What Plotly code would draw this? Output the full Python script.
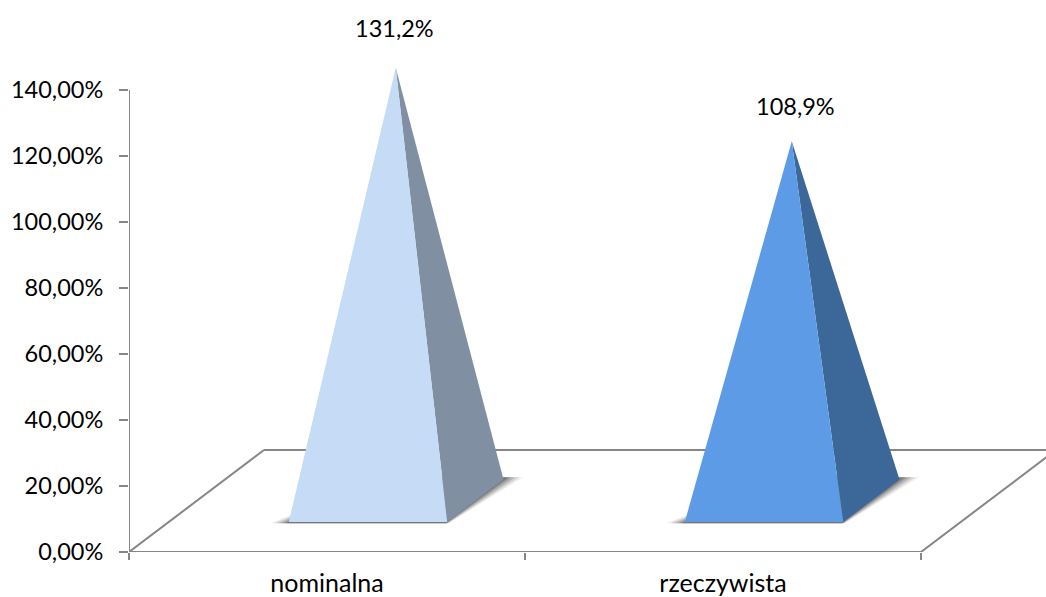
import plotly.graph_objects as go

categories = ["nominalna", "rzeczywista"]
values = [131.2, 108.9]
y_ticks = [0, 20, 40, 60, 80, 100, 120, 140]
y_tick_labels = ["0,00%", "20,00%", "40,00%", "60,00%", "80,00%", "100,00%", "120,00%", "140,00%"]
front_colors = ["#C6DBF6", "#5D9BE7"]
side_colors = ["#818FA3", "#3C6799"]

AXIS = "#868686"
DX = 135 / 396      # horizontal shift of full depth, in category units
DY = 102 / 3.3      # vertical shift of full depth, in value units
BAR_A, BAR_B = 0.303, 0.703
D_F, D_B = 0.295, 0.712
XMAX = (1046 - 129) / 396
YMAX = 552 / 3.3


def proj(x, d, v=0.0):
    return x + d * DX, v + d * DY


def poly(pts, color):
    xs = [p[0] for p in pts] + [pts[0][0]]
    ys = [p[1] for p in pts] + [pts[0][1]]
    return go.Scatter(x=xs, y=ys, mode="lines", fill="toself", fillcolor=color,
                      line=dict(width=0, color=color), hoverinfo="skip", showlegend=False)


def line(pts):
    return go.Scatter(x=[p[0] for p in pts], y=[p[1] for p in pts], mode="lines",
                      line=dict(color=AXIS, width=2), hoverinfo="skip", showlegend=False)


fig = go.Figure()

n = len(categories)
# floor and value axis
fig.add_trace(line([proj(0, 1), proj(n, 1)]))
fig.add_trace(line([proj(0, 1), proj(0, 0), proj(n, 0), proj(n, 1)]))
fig.add_trace(line([(0, 0), (0, y_ticks[-1])]))

for i, (v, fc, sc) in enumerate(zip(values, front_colors, side_colors)):
    a, b = i + BAR_A, i + BAR_B
    # soft shadow on the floor
    for e, alpha in [(0.042, 0.10), (0.032, 0.16), (0.022, 0.22), (0.012, 0.30), (0.004, 0.35)]:
        fig.add_trace(poly([proj(a - e, D_F - 0.012), proj(b + e * 0.2, D_F - 0.012),
                            proj(b + e, D_B + 0.02), proj(a + 0.1, D_B + 0.02)],
                           f"rgba(70,70,70,{alpha})"))
    apex = proj(i + 0.502, (D_F + D_B) / 2, v)
    fig.add_trace(poly([proj(b, D_F), proj(b, D_B), apex], sc))
    fig.add_trace(poly([proj(a, D_F), proj(b, D_F), apex], fc))

label_shift = [(-1, 40), (4, 35)]
for i, v in enumerate(values):
    ax, ay = proj(i + 0.502, (D_F + D_B) / 2, v)
    fig.add_annotation(x=ax, y=ay, xref="x", yref="y", showarrow=False,
                       text=f"{v:.1f}%".replace(".", ","),
                       xshift=label_shift[i][0], yshift=label_shift[i][1],
                       font=dict(family="Lato", size=23.5, color="#000000"))

fig.update_layout(
    width=1046, height=597, autosize=False,
    margin=dict(l=129, r=0, t=0, b=45, autoexpand=False),
    paper_bgcolor="white", plot_bgcolor="white", showlegend=False,
    font=dict(family="Lato", size=23.5, color="#000000"),
    xaxis=dict(range=[0, XMAX], showgrid=False, zeroline=False, showline=False,
               automargin=False,
               tickmode="array", tickvals=[i + 0.5 for i in range(n)], ticktext=categories,
               ticks="", ticklabelstandoff=14,
               tickfont=dict(family="Lato", size=25, color="#000000"),
               minor=dict(tickmode="array", tickvals=list(range(n + 1)), ticks="outside",
                          ticklen=7, tickwidth=2, tickcolor=AXIS, showgrid=False)),
    yaxis=dict(range=[0, YMAX], showgrid=False, zeroline=False, showline=False,
               automargin=False,
               tickmode="array", tickvals=y_ticks, ticktext=y_tick_labels,
               ticks="outside", ticklen=9, tickwidth=2, tickcolor=AXIS,
               ticklabelstandoff=11),
)

fig.write_html("out.html", config=dict(displayModeBar=False),
               post_script="document.body.style.margin='0';document.body.style.overflow='hidden';window.dispatchEvent(new Event('resize'));")
